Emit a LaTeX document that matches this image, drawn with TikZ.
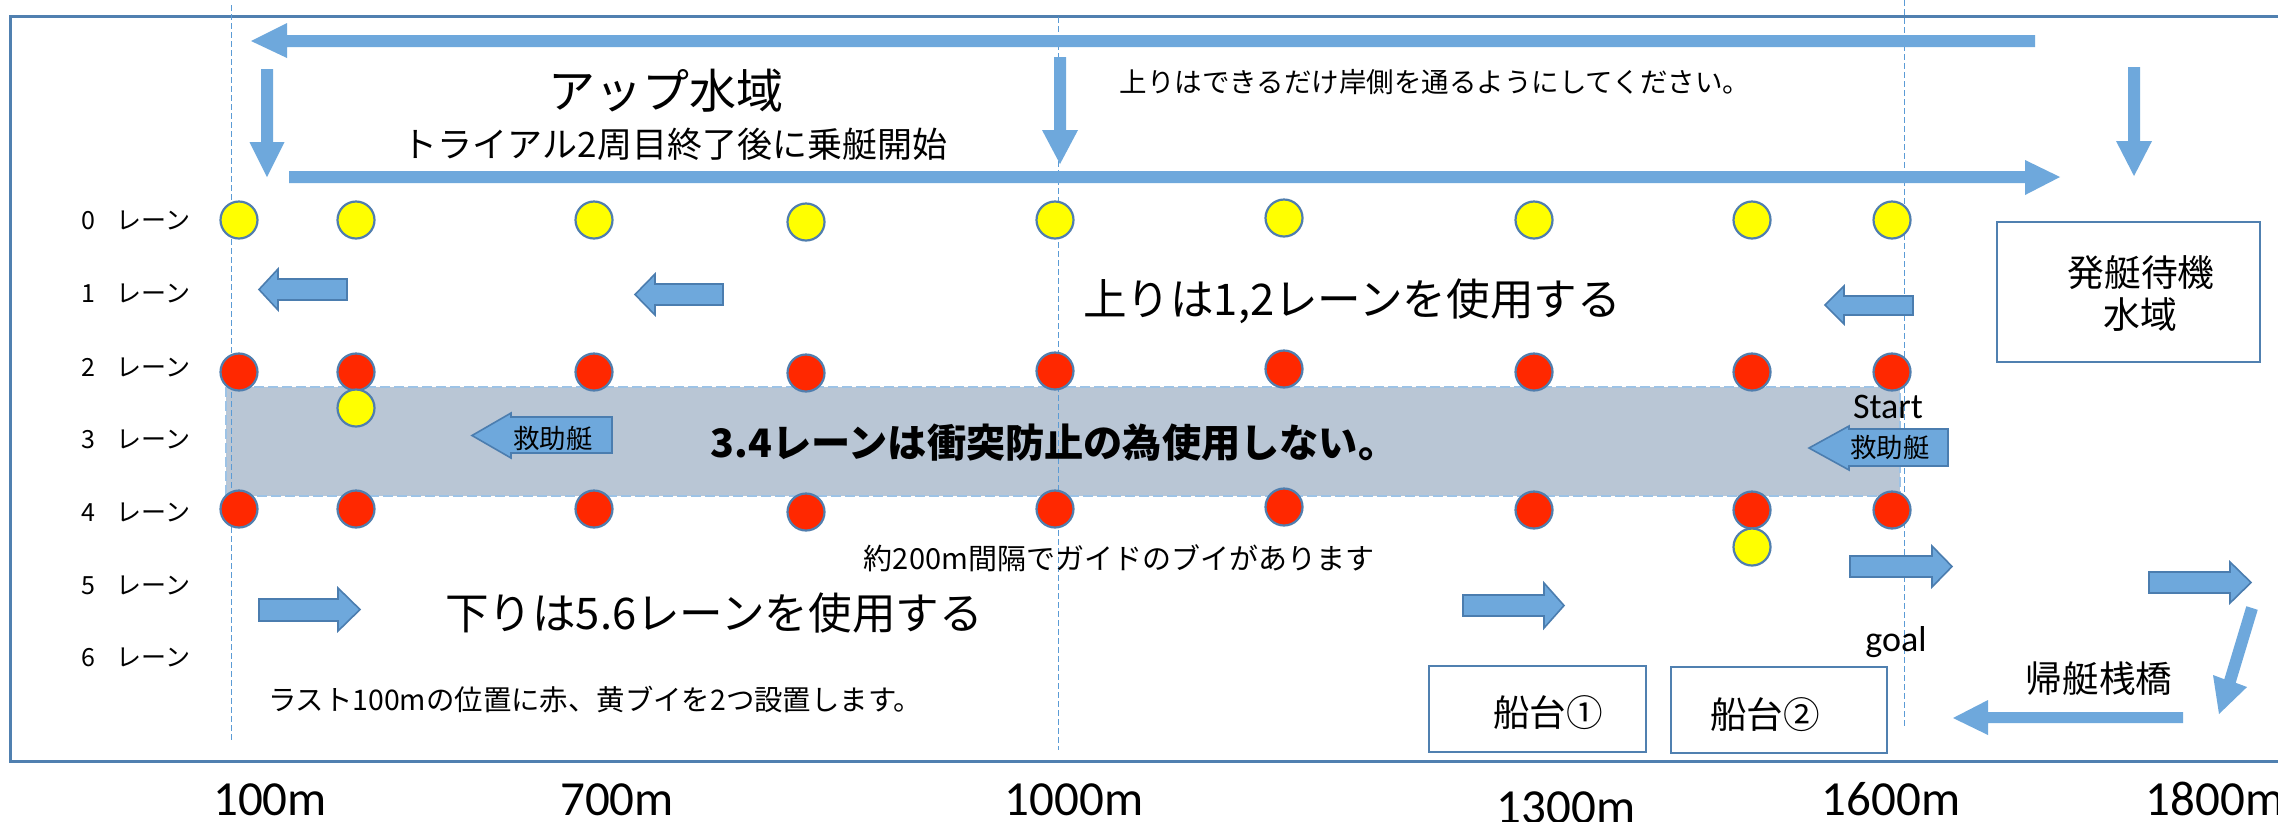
\documentclass[tikz,border=0pt]{standalone}
\usepackage{fontspec}
\setmainfont{Carlito}
\newfontfamily\jp{Noto Sans CJK JP}
\definecolor{arrowblue}{RGB}{110,168,220}
\definecolor{arrowedge}{RGB}{75,125,175}
\definecolor{frameblue}{RGB}{80,128,176}
\definecolor{buoyedge}{RGB}{80,126,174}
\definecolor{bandgray}{RGB}{185,198,213}
\definecolor{banddash}{RGB}{157,195,230}
\definecolor{guideblue}{RGB}{91,155,213}
\definecolor{buoyred}{RGB}{255,40,0}
\definecolor{buoyyellow}{RGB}{255,255,0}
\tikzset{
  lineArrow/.style={fill=arrowblue,draw=none},
  blockArrow/.style={fill=arrowblue,draw=arrowedge,line width=0.8pt,line join=miter},
  frameLine/.style={draw=frameblue,line width=1.5pt},
  boxLine/.style={draw=frameblue,line width=1.3pt},
  bandStyle/.style={fill=bandgray,draw=banddash,line width=1pt,dash pattern=on 5pt off 2pt},
  guideLine/.style={draw=guideblue,line width=0.5pt,dash pattern=on 3pt off 1.5pt},
  buoy/.style={circle,draw=buoyedge,line width=1.1pt,minimum size=18.5pt,inner sep=0},
  buoyY/.style={buoy,fill=buoyyellow},
  buoyR/.style={buoy,fill=buoyred},
  jpt/.style={font=\jp\fontsize{#1}{#1}\selectfont,inner sep=0},
  jptb/.style={font=\jp\bfseries\fontsize{#1}{#1}\selectfont,inner sep=0},
  lat/.style={font=\fontsize{#1}{#1}\selectfont,inner sep=0}
}
\begin{document}
\begin{tikzpicture}[x=0.5pt,y=-0.5pt]
\useasboundingbox (0,0) rectangle (2278,821);
\clip (0,0) rectangle (2278,821);
\fill[white] (0,0) rectangle (2278,821);
% frame
\draw[frameLine] (10,16) rectangle (2300,761);
% no-use band
\draw[bandStyle] (226,387) rectangle (1900,496);
% guide lines
\draw[guideLine] (231,5) -- (231,740);
\draw[guideLine] (1058,17) -- (1058,750);
\draw[guideLine] (1904,0) -- (1904,728);
% long arrows
\fill[lineArrow] (2035,35) -- (2035,47) -- (287,47) -- (287,58) -- (251,41) -- (287,23) -- (287,35) -- cycle;
\fill[lineArrow] (289,171) -- (2025,171) -- (2025,160) -- (2060,177) -- (2025,195) -- (2025,183) -- (289,183) -- cycle;
% down arrows
\fill[lineArrow] (261,69) -- (273,69) -- (273,142) -- (284.5,142) -- (267,177) -- (249.5,142) -- (261,142) -- cycle;
\fill[lineArrow] (1054,57) -- (1066,57) -- (1066,130) -- (1078,130) -- (1060,164) -- (1042,130) -- (1054,130) -- cycle;
\fill[lineArrow] (2128,67) -- (2140,67) -- (2140,141) -- (2152,141) -- (2134,176) -- (2116,141) -- (2128,141) -- cycle;
% return arrows
\fill[lineArrow] (2246.3,606.2) -- (2257.7,609.8) -- (2235.7,682.8) -- (2247,687) -- (2219,714) -- (2213,675) -- (2224.3,679.2) -- cycle;
\fill[lineArrow] (2183,712) -- (2183,723) -- (1988,723) -- (1988,735) -- (1953,718) -- (1988,700) -- (1988,712) -- cycle;
% lane 1 block arrows (left)
\draw[blockArrow] (347,279) -- (278,279) -- (278,269) -- (259,289.5) -- (278,310) -- (278,300) -- (347,300) -- cycle;
\draw[blockArrow] (723,284) -- (655,284) -- (655,274) -- (635,294.5) -- (655,315) -- (655,305) -- (723,305) -- cycle;
\draw[blockArrow] (1913,296) -- (1844,296) -- (1844,286) -- (1825,305) -- (1844,324) -- (1844,315) -- (1913,315) -- cycle;
% lane 5/6 block arrows (right)
\draw[blockArrow] (259,599) -- (338,599) -- (338,588) -- (360,609.5) -- (338,631) -- (338,621) -- (259,621) -- cycle;
\draw[blockArrow] (1463,595) -- (1544,595) -- (1544,583) -- (1564,605.5) -- (1544,628) -- (1544,616) -- (1463,616) -- cycle;
\draw[blockArrow] (1850,556) -- (1932,556) -- (1932,546) -- (1952,566.5) -- (1932,587) -- (1932,577) -- (1850,577) -- cycle;
\draw[blockArrow] (2149,572) -- (2230,572) -- (2230,562) -- (2251,582.5) -- (2230,603) -- (2230,593) -- (2149,593) -- cycle;
% rescue boat arrows
\draw[blockArrow] (612,417) -- (511,417) -- (511,413) -- (472,435.5) -- (511,458) -- (511,453) -- (612,453) -- cycle;
\draw[blockArrow] (1948,429) -- (1849,429) -- (1849,426) -- (1809,448) -- (1849,470) -- (1849,466) -- (1948,466) -- cycle;
\node[jpt=13.2] (rescue1) at (553,438) {救助艇};
\node[jpt=13.2] (rescue2) at (1890,447) {救助艇};
% buoys lane 0
\foreach \x/\y [count=\i] in {239/220,356/220,594/220,806/222,1055/220,1284/218,1534/220,1752/220,1892/220}
  \node[buoyY] (yb\i) at (\x,\y) {};
% buoys lane 2
\foreach \x/\y [count=\i] in {239/372,356/372,594/372,806/373,1055/371,1284/369,1534/372,1752/372,1892/372}
  \node[buoyR] (ra\i) at (\x,\y) {};
% buoys lane 4
\foreach \x/\y [count=\i] in {239/509,356/509,594/509,806/512,1055/509,1284/507,1534/510,1752/510,1892/510}
  \node[buoyR] (rb\i) at (\x,\y) {};
\node[buoyY] (ylast1) at (356,408) {};
\node[buoyY] (ylast2) at (1752,547) {};
% boxes
\draw[boxLine] (1997,222) rectangle (2260,362);
\draw[boxLine] (1429,666) rectangle (1646,752);
\draw[boxLine] (1671,667) rectangle (1887,753);
\node[jpt=18.4] (wait1) at (2141,273) {発艇待機};
\node[jpt=18.4] (wait2) at (2140,315) {水域};
\node[jpt=18.3] (pier) at (2099,679) {帰艇桟橋};
\node[jpt=18.3] (dock1) at (1548,713) {船台①};
\node[jpt=18.3] (dock2) at (1765,715) {船台②};
% texts
\node[jpt=23.5] (upzone) at (666,91) {アップ水域};
\node[jpt=17.5] (trial) at (675,144) {トライアル2周目終了後に乗艇開始};
\node[jpt=13.75] (shore) at (1435,82) {上りはできるだけ岸側を通るようにしてください。};
\node[jpt=21.8] (uplane) at (1352,301) {上りは1,2レーンを使用する};
\node[jptb=19.6] (nouse) at (1054,443) {3.4レーンは衝突防止の為使用しない。};
\node[jpt=14.5] (guidetxt) at (1119,558) {約200m間隔でガイドのブイがあります};
\node[jpt=21.8] (downlane) at (714,613) {下りは5.6レーンを使用する};
\node[jpt=14.2] (lasttxt) at (595,700) {ラスト100mの位置に赤、黄ブイを2つ設置します。};
% lane labels
\foreach \n/\y in {0/220,1/293,2/367,3/439,4/512,5/585,6/657}
  \node[jpt=12.5,anchor=west] (lane\n) at (81,\y) {\n\hspace{10.5pt}レーン};
% start / goal
\node[lat=18,anchor=base] (start) at (1888,418) {Start};
\node[lat=18,anchor=base] (goal) at (1896,651) {goal};
% distance labels
\node[lat=24.5,anchor=base] (d100) at (270,815) {100m};
\node[lat=24.5,anchor=base] (d700) at (617,815) {700m};
\node[lat=24.5,anchor=base] (d1000) at (1074,815) {1000m};
\node[lat=24.5,anchor=base] (d1300) at (1566,823) {1300m};
\node[lat=24.5,anchor=base] (d1600) at (1891,815) {1600m};
\node[lat=24.5,anchor=base] (d1800) at (2215,815) {1800m};
\end{tikzpicture}
\end{document}
